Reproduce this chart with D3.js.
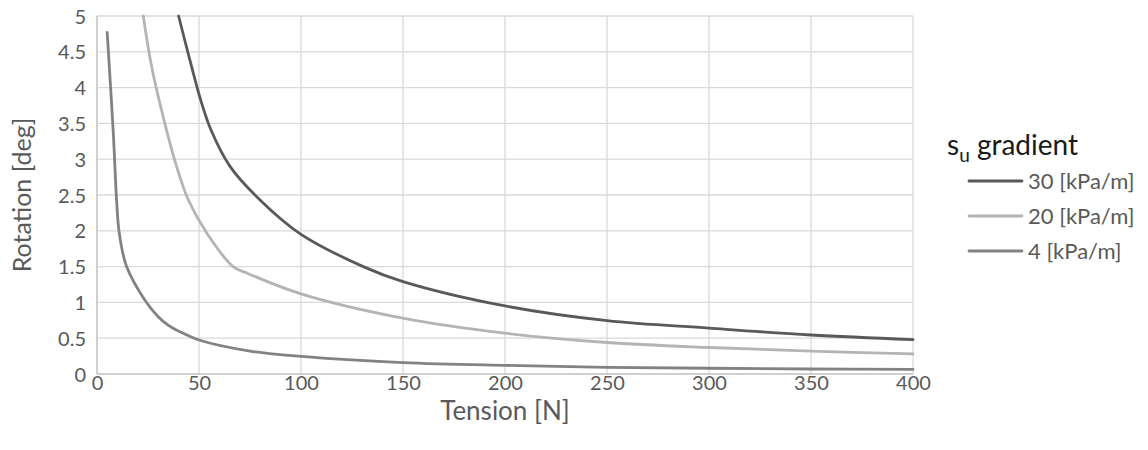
<!DOCTYPE html>
<html>
<head>
<meta charset="utf-8">
<script src="https://cdn.jsdelivr.net/npm/d3@7/dist/d3.min.js"></script>
<style>
  html, body { margin: 0; padding: 0; background: #fff; }
  svg { display: block; font-family: Lato, "Open Sans", sans-serif; }
</style>
</head>
<body>
<svg id="chart" width="1148" height="450"></svg>
<script>
// Tick values for both axes
const xTicks = [0, 50, 100, 150, 200, 250, 300, 350, 400];
const yTicks = [0, 0.5, 1, 1.5, 2, 2.5, 3, 3.5, 4, 4.5, 5];

// Series names (legend order)
const seriesNames = ["30 [kPa/m]", "20 [kPa/m]", "4 [kPa/m]"];

// su gradient 30 kPa/m
const tension30 = [40, 46.4, 50.8, 56, 65.2, 79.9, 100, 130.5, 150, 200, 250, 300, 350, 400];
const rotation30 = [5.0, 4.29, 3.83, 3.4, 2.9, 2.43, 1.95, 1.5, 1.29, 0.95, 0.745, 0.64, 0.545, 0.48];

// su gradient 20 kPa/m
const tension20 = [22.7, 26.8, 34.5, 39, 44.8, 53.8, 66.7, 73.4, 100, 150, 200, 250, 300, 350, 400];
const rotation20 = [5.0, 4.29, 3.36, 2.9, 2.43, 1.97, 1.5, 1.41, 1.12, 0.78, 0.57, 0.44, 0.37, 0.32, 0.28];

// su gradient 4 kPa/m
const tension4 = [5, 8, 9.6, 10.9, 14.5, 23.5, 30, 35, 40.7, 50, 75, 100, 150, 200, 250, 300, 350, 400];
const rotation4 = [4.77, 3.36, 2.43, 1.97, 1.5, 1.03, 0.8, 0.68, 0.59, 0.475, 0.32, 0.245, 0.16, 0.12, 0.093, 0.08, 0.07, 0.065];

const seriesColors = ["#595959", "#b4b4b4", "#828282"];

const series = [
  { name: seriesNames[0], color: seriesColors[0], pts: tension30.map((t, i) => [t, rotation30[i]]) },
  { name: seriesNames[1], color: seriesColors[1], pts: tension20.map((t, i) => [t, rotation20[i]]) },
  { name: seriesNames[2], color: seriesColors[2], pts: tension4.map((t, i) => [t, rotation4[i]]) }
];

const svg = d3.select("#chart");
const plot = { left: 97, right: 913, top: 16, bottom: 374 };

const x = d3.scaleLinear().domain([0, 400]).range([plot.left, plot.right]);
const y = d3.scaleLinear().domain([0, 5]).range([plot.bottom, plot.top]);

// Gridlines
const grid = svg.append("g");
grid.selectAll("line.v").data(xTicks).join("line")
  .attr("x1", d => x(d)).attr("x2", d => x(d))
  .attr("y1", plot.top).attr("y2", plot.bottom)
  .attr("stroke", "#d9d9d9").attr("stroke-width", 1.3);
grid.selectAll("line.h").data(yTicks).join("line")
  .attr("x1", plot.left).attr("x2", plot.right)
  .attr("y1", d => y(d)).attr("y2", d => y(d))
  .attr("stroke", "#d9d9d9").attr("stroke-width", 1.3);

// Axis lines
svg.append("line")
  .attr("x1", plot.left).attr("x2", plot.right)
  .attr("y1", y(0)).attr("y2", y(0))
  .attr("stroke", "#c8c8c8").attr("stroke-width", 1.5);
svg.append("line")
  .attr("x1", x(0)).attr("x2", x(0))
  .attr("y1", plot.top).attr("y2", plot.bottom)
  .attr("stroke", "#c8c8c8").attr("stroke-width", 1.5);

// Axes (labels only, using d3 axis generators)
const xAxis = d3.axisBottom(x).tickValues(xTicks).tickSize(0).tickPadding(0).tickFormat(d3.format("d"));
const gx = svg.append("g").attr("transform", `translate(0,${plot.bottom})`).call(xAxis);
gx.select(".domain").remove();
gx.selectAll("text")
  .attr("y", 16).attr("dy", null)
  .attr("fill", "#595959").style("font-size", "20px").style("font-family", "Lato, sans-serif");

const yAxis = d3.axisLeft(y).tickValues(yTicks).tickSize(0).tickPadding(0).tickFormat(d => String(d));
const gy = svg.append("g").attr("transform", `translate(${plot.left - 11},0)`).call(yAxis);
gy.select(".domain").remove();
gy.selectAll("text")
  .attr("dy", "0.35em")
  .attr("fill", "#595959").style("font-size", "20px").style("font-family", "Lato, sans-serif");

// Axis titles
svg.append("text")
  .attr("x", (plot.left + plot.right) / 2).attr("y", 420)
  .attr("text-anchor", "middle")
  .attr("fill", "#595959").style("font-size", "26px")
  .text("Tension [N]");
svg.append("text")
  .attr("transform", `translate(31,${(plot.top + plot.bottom) / 2}) rotate(-90)`)
  .attr("text-anchor", "middle")
  .attr("fill", "#595959").style("font-size", "25px")
  .text("Rotation [deg]");

// Curves
const line = d3.line()
  .x(d => x(d[0])).y(d => y(d[1]))
  .curve(d3.curveCatmullRom.alpha(0.5));
svg.append("g").selectAll("path").data(series).join("path")
  .attr("d", d => line(d.pts))
  .attr("fill", "none")
  .attr("stroke", d => d.color)
  .attr("stroke-width", 2.8)
  .attr("stroke-linecap", "round")
  .attr("stroke-linejoin", "round");

// Legend
const legendTitle = svg.append("text")
  .attr("x", 947).attr("y", 155)
  .attr("fill", "#1a1a1a").style("font-size", "28px");
legendTitle.append("tspan").text("s");
legendTitle.append("tspan").attr("dy", 7).style("font-size", "19px").text("u");
legendTitle.append("tspan").attr("dy", -7).text(" gradient");

const legendRows = svg.append("g").selectAll("g").data(series).join("g")
  .attr("transform", (d, i) => `translate(969,${181 + i * 35})`);
legendRows.append("line")
  .attr("x1", 0).attr("x2", 53).attr("y1", 0).attr("y2", 0)
  .attr("stroke", d => d.color).attr("stroke-width", 2.8)
  .attr("stroke-linecap", "round");
legendRows.append("text")
  .attr("x", 59).attr("dy", "0.35em")
  .attr("fill", "#595959").style("font-size", "22px")
  .text(d => d.name);
</script>
</body>
</html>
